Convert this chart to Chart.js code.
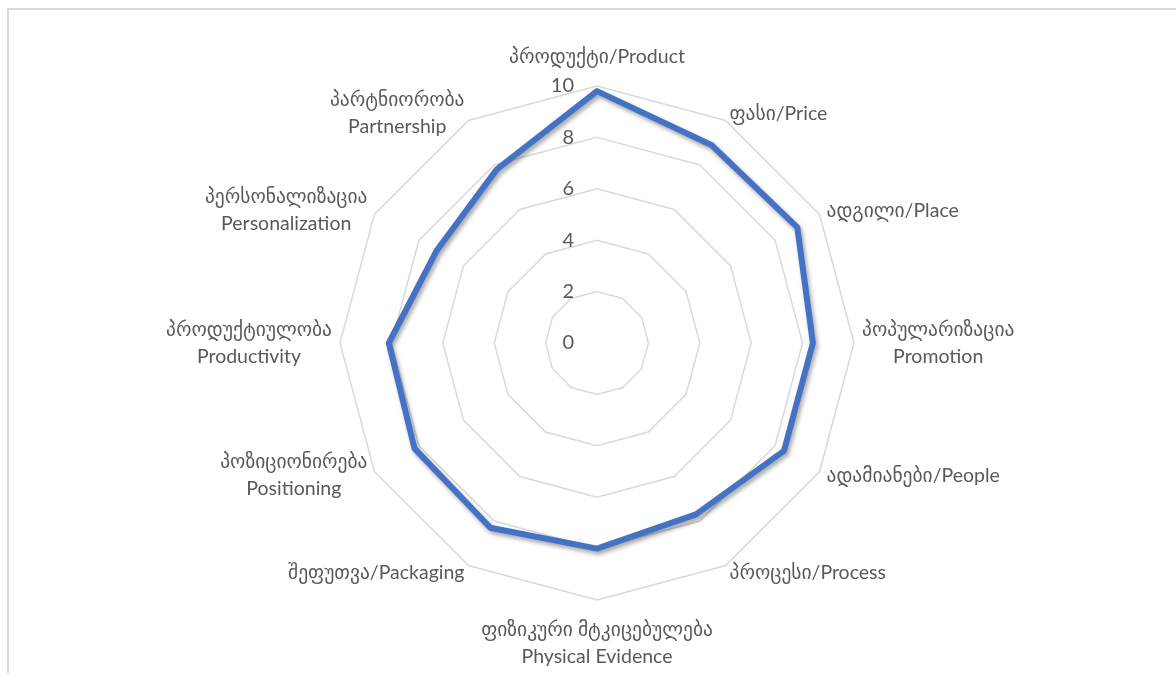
<!DOCTYPE html>
<html lang="ka">
<head>
<meta charset="utf-8">
<title>7P radar</title>
<script src="https://cdn.jsdelivr.net/npm/chart.js@4/dist/chart.umd.min.js"></script>
<style>
  html, body { margin: 0; padding: 0; background: #fff; overflow: hidden; }
  .frame {
    position: absolute; left: 7px; top: 8px; width: 1300px; height: 800px;
    border-top: 2px solid #d9d9d9; border-left: 2px solid #d9d9d9;
  }
  .wrap { position: absolute; left: 0; top: 0; width: 1176px; height: 673px; }
</style>
</head>
<body>
<div class="frame"></div>
<div class="wrap"><canvas id="radar"></canvas></div>
<script>
/* ---------- data ---------- */
const categories = [
  ["პროდუქტი/Product"],
  ["ფასი/Price"],
  ["ადგილი/Place"],
  ["პოპულარიზაცია", "Promotion"],
  ["ადამიანები/People"],
  ["პროცესი/Process"],
  ["ფიზიკური მტკიცებულება", "Physical Evidence"],
  ["შეფუთვა/Packaging"],
  ["პოზიციონირება", "Positioning"],
  ["პროდუქტიულობა", "Productivity"],
  ["პერსონალიზაცია", "Personalization"],
  ["პარტნიორობა", "Partnership"],
];
const scores = [9.8, 8.9, 9.0, 8.4, 8.4, 7.7, 8.0, 8.3, 8.2, 8.1, 7.2, 7.8];
const tickValues = [0, 2, 4, 6, 8, 10];
const tickLabels = ["0", "2", "4", "6", "8", "10"];

/* ---------- style ---------- */
const TEXT = "#595959";
const GRID = "#d9d9d9";
const FONT_FAMILY = "Lato, 'DejaVu Sans', sans-serif";
const LABEL_FONT = `19.5px ${FONT_FAMILY}`;
const TICK_FONT = `20px ${FONT_FAMILY}`;
const LINE_H = 27;

// soft drop shadow under the series line
const lineShadow = {
  id: "lineShadow",
  beforeDatasetsDraw(chart) {
    const c = chart.ctx;
    c.save();
    c.shadowColor = "rgba(0,0,0,0.35)";
    c.shadowBlur = 4;
    c.shadowOffsetX = 2;
    c.shadowOffsetY = 3;
  },
  afterDatasetsDraw(chart) { chart.ctx.restore(); },
};

// value labels to the left of the vertical axis
const tickText = {
  id: "tickText",
  afterDraw(chart) {
    const r = chart.scales.r;
    const c = chart.ctx;
    c.save();
    c.font = TICK_FONT;
    c.fillStyle = TEXT;
    c.textAlign = "right";
    c.textBaseline = "middle";
    tickValues.forEach((v, i) => {
      c.fillText(tickLabels[i], r.xCenter - 23, r.yCenter - r.getDistanceFromCenterForValue(v));
    });
    c.restore();
  },
};

// category labels: top/bottom centred, sides aligned to the outer ring
const catText = {
  id: "catText",
  afterDraw(chart) {
    const r = chart.scales.r;
    const c = chart.ctx;
    const n = categories.length;
    c.save();
    c.font = LABEL_FONT;
    c.fillStyle = TEXT;
    c.textAlign = "center";
    c.textBaseline = "middle";
    categories.forEach((lines, i) => {
      const deg = (360 / n) * i;
      const vertical = deg === 0 || deg === 180;
      const p = r.getPointPosition(i, r.drawingArea + (vertical ? 16 : 8));
      const w = Math.max(...lines.map((t) => c.measureText(t).width));
      const h = lines.length * LINE_H;
      let cx = p.x;
      if (!vertical) cx = deg < 180 ? p.x + w / 2 : p.x - w / 2;
      let top = p.y - h / 2;
      if (deg === 0) top = p.y - h;
      if (deg === 180) top = p.y;
      lines.forEach((t, k) => c.fillText(t, cx, top + LINE_H * (k + 0.5)));
    });
    c.restore();
  },
};

new Chart(document.getElementById("radar"), {
  type: "radar",
  data: {
    labels: categories,
    datasets: [{
      label: "7P",
      data: scores,
      borderColor: "#4472C4",
      backgroundColor: "rgba(0,0,0,0)",
      borderWidth: 6,
      borderJoinStyle: "round",
      fill: false,
      pointRadius: 0,
      pointHoverRadius: 0,
    }],
  },
  options: {
    responsive: true,
    maintainAspectRatio: false,
    animation: false,
    layout: { padding: { top: 86, bottom: 73, left: 100, right: 82 } },
    plugins: { legend: { display: false }, tooltip: { enabled: false } },
    scales: {
      r: {
        min: 0, max: 10,
        ticks: { display: false, stepSize: 2 },
        pointLabels: { display: false },
        angleLines: { display: false },
        grid: { color: GRID, lineWidth: 1.5 },
      },
    },
  },
  plugins: [lineShadow, tickText, catText],
});
</script>
</body>
</html>
